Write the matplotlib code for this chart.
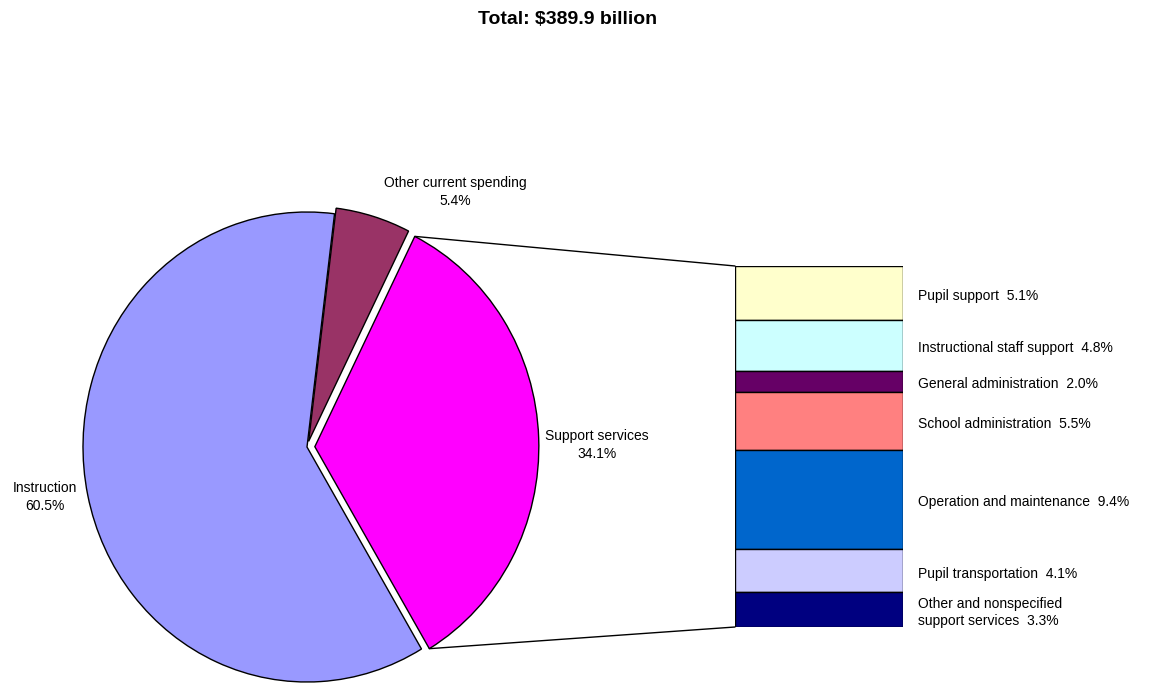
import matplotlib.pyplot as plt
from matplotlib.patches import ConnectionPatch
import numpy as np

plt.rcParams['font.family'] = ['Liberation Sans', 'DejaVu Sans']

# main pie
pie_labels = ['Support services', 'Instruction', 'Other current spending']
pie_values = [34.1, 60.5, 5.4]
pie_colors = ['#FF00FF', '#9999FF', '#993366']

# breakdown of support services (top to bottom)
sub_labels = ['Pupil support', 'Instructional staff support', 'General administration',
              'School administration', 'Operation and maintenance', 'Pupil transportation',
              'Other and nonspecified\nsupport services']
sub_values = [5.1, 4.8, 2.0, 5.5, 9.4, 4.1, 3.3]
sub_colors = ['#FFFFCC', '#CCFFFF', '#660066', '#FF8080', '#0066CC', '#CCCCFF', '#000080']

W, H = 1150, 684
fig = plt.figure(figsize=(W / 100, H / 100), dpi=100)

# pie axes: centre (307, 447) px, slightly taller than wide (rx 224, ry 235 px)
cx, cy, rx, ry, half = 307, 447, 224, 235, 270
ax1 = fig.add_axes([(cx - half) / W, 1 - (cy + half) / H, 2 * half / W, 2 * half / H])
wedges, _ = ax1.pie(pie_values, colors=pie_colors, startangle=63.5, counterclock=False,
                    explode=[0.035, 0, 0.025], radius=1,
                    wedgeprops=dict(edgecolor='black', linewidth=1))
ax1.set_aspect('auto')
ax1.set_xlim(-half / rx, half / rx)
ax1.set_ylim(-half / ry, half / ry)
ax1.axis('off')

# label centres in pie data units
lab_pos = [((597 - cx) / rx, (cy - 445) / ry), ((45 - cx) / rx, (cy - 497) / ry),
           ((455 - cx) / rx, (cy - 192) / ry)]
for name, v, (x, y) in zip(pie_labels, pie_values, lab_pos):
    ax1.text(x, y, f'{name}\n{v}%', ha='center', va='center', fontsize=10, linespacing=1.3)

# stacked bar axes
bl, br, bt, bb = 735, 903, 266, 627
ax2 = fig.add_axes([bl / W, 1 - bb / H, (br - bl) / W, (bb - bt) / H])
total = sum(sub_values)
bottom = total
for name, v, c in zip(sub_labels, sub_values, sub_colors):
    bottom -= v
    ax2.bar(0.5, v, width=1, bottom=bottom, color=c, edgecolor='black', linewidth=1)
    ax2.text(1.09, bottom + v / 2 - 0.3, f'{name}  {v}%', ha='left', va='center',
             fontsize=10, linespacing=1.3)
ax2.set_xlim(0, 1)
ax2.set_ylim(0, total)
ax2.axis('off')

# connectors from support services wedge to the bar
w = wedges[0]
wc = np.array(w.center)
for theta, ytarget in [(w.theta2, total), (w.theta1, 0)]:
    p = wc + w.r * np.array([np.cos(np.radians(theta)), np.sin(np.radians(theta))])
    con = ConnectionPatch(xyA=p, coordsA=ax1.transData, xyB=(0, ytarget), coordsB=ax2.transData,
                          color='black', linewidth=1)
    fig.add_artist(con)

fig.text(568 / W, 1 - 20 / H, 'Total: $389.9 billion', ha='center', va='center',
         fontsize=14, fontweight='bold')

fig.savefig('out.png', dpi=100, facecolor='white')
